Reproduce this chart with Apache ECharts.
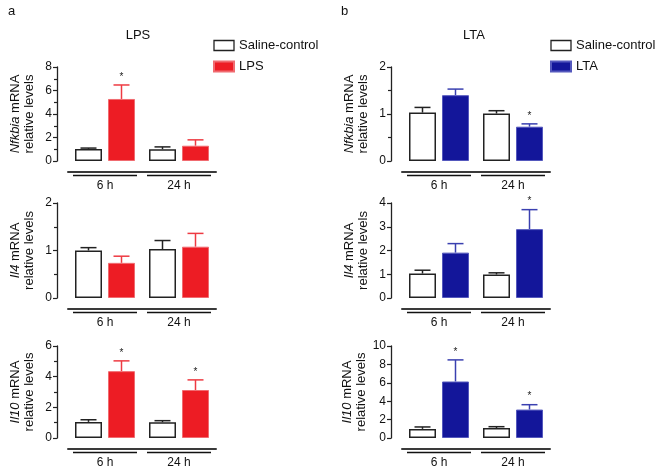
<!DOCTYPE html>
<html>
<head>
<meta charset="utf-8">
<script src="https://cdn.jsdelivr.net/npm/echarts@6/dist/echarts.min.js"></script>
<style>
html,body{margin:0;padding:0;background:#fff;}
#c{width:660px;height:469px;}
</style>
</head>
<body>
<div id="c"></div>
<script>
// ---- data ----
var categories = ['6 h', '24 h'];

// Panel a (LPS)
var nfkbiaLpsSaline = [1.02, 1.00], nfkbiaLpsSalineErr = [1.10, 1.20];
var nfkbiaLps = [5.28, 1.30], nfkbiaLpsErr = [6.47, 1.80], nfkbiaLpsSig = [1, 0];
var il4LpsSaline = [1.00, 1.03], il4LpsSalineErr = [1.06, 1.21];
var il4Lps = [0.74, 1.08], il4LpsErr = [0.88, 1.36], il4LpsSig = [0, 0];
var il10LpsSaline = [1.05, 1.03], il10LpsSalineErr = [1.19, 1.13];
var il10Lps = [4.36, 3.13], il10LpsErr = [5.03, 3.79], il10LpsSig = [1, 1];

// Panel b (LTA)
var nfkbiaLtaSaline = [1.03, 1.01], nfkbiaLtaSalineErr = [1.14, 1.07];
var nfkbiaLta = [1.40, 0.73], nfkbiaLtaErr = [1.53, 0.79], nfkbiaLtaSig = [0, 1];
var il4LtaSaline = [1.03, 0.99], il4LtaSalineErr = [1.17, 1.06];
var il4Lta = [1.91, 2.90], il4LtaErr = [2.29, 3.72], il4LtaSig = [0, 1];
var il10LtaSaline = [0.99, 1.09], il10LtaSalineErr = [1.20, 1.23];
var il10Lta = [6.14, 3.09], il10LtaErr = [8.49, 3.62], il10LtaSig = [1, 1];

// axis ranges
var yMax = [8, 2, 6, 2, 4, 10];
var yInterval = [2, 1, 2, 1, 1, 2];
var yMinor = [true, true, true, true, false, false];
var geneNames = ['Nfkbia', 'Il4', 'Il10', 'Nfkbia', 'Il4', 'Il10'];

// ---- style ----
var FONT = 'Liberation Sans, Arial, sans-serif';
var RED = '#ed1c24', RED_B = '#f06b70', RED_E = '#ee3a42';
var BLUE = '#13169a', BLUE_B = '#5458bd', BLUE_E = '#3a40b0';
var BLACK = '#222';
var BAR_W = 27, BAR_GAP = 6;
var OFF = (BAR_W + BAR_GAP) / 2;

var gridDefs = [
  {left: 68, top: 67, width: 148, height: 94},
  {left: 68, top: 203, width: 148, height: 95},
  {left: 68, top: 346, width: 148, height: 95},
  {left: 402, top: 67, width: 148, height: 94},
  {left: 402, top: 203, width: 148, height: 95},
  {left: 402, top: 346, width: 148, height: 95}
];

var panels = [
  {s: nfkbiaLpsSaline, se: nfkbiaLpsSalineErr, t: nfkbiaLps, te: nfkbiaLpsErr, sig: nfkbiaLpsSig, name: 'LPS'},
  {s: il4LpsSaline, se: il4LpsSalineErr, t: il4Lps, te: il4LpsErr, sig: il4LpsSig, name: 'LPS'},
  {s: il10LpsSaline, se: il10LpsSalineErr, t: il10Lps, te: il10LpsErr, sig: il10LpsSig, name: 'LPS'},
  {s: nfkbiaLtaSaline, se: nfkbiaLtaSalineErr, t: nfkbiaLta, te: nfkbiaLtaErr, sig: nfkbiaLtaSig, name: 'LTA'},
  {s: il4LtaSaline, se: il4LtaSalineErr, t: il4Lta, te: il4LtaErr, sig: il4LtaSig, name: 'LTA'},
  {s: il10LtaSaline, se: il10LtaSalineErr, t: il10Lta, te: il10LtaErr, sig: il10LtaSig, name: 'LTA'}
];

function errRender(offset, color) {
  return function (params, api) {
    var cat = api.value(0);
    var top = api.coord([cat, api.value(2)]);
    var base = api.coord([cat, api.value(1)]);
    var x = top[0] + offset;
    var children = [
      {type: 'line', shape: {x1: x, y1: base[1], x2: x, y2: top[1]}, style: {stroke: color, lineWidth: 1.5}},
      {type: 'line', shape: {x1: x - 8, y1: top[1], x2: x + 8, y2: top[1]}, style: {stroke: color, lineWidth: 1.5}}
    ];
    if (api.value(3)) {
      children.push({type: 'text', style: {text: '*', x: x, y: top[1] - 3, textAlign: 'center', textVerticalAlign: 'bottom', fontSize: 10, fontFamily: FONT, fill: '#222'}});
    }
    return {type: 'group', children: children};
  };
}

function underlineRender(params, api) {
  var p = api.coord([api.value(0), 0]);
  var w = api.size([1, 0])[0];
  return {type: 'line', shape: {x1: p[0] - w / 2 + 5, y1: p[1] + 14.5, x2: p[0] + w / 2 - 5, y2: p[1] + 14.5}, style: {stroke: '#111', lineWidth: 1.3}};
}

var grids = [], xAxes = [], yAxes = [], series = [];
gridDefs.forEach(function (g, i) {
  grids.push(g);
  xAxes.push({
    type: 'category', gridIndex: i, data: categories, offset: 11,
    axisLine: {onZero: false, lineStyle: {color: '#3a3a3a', width: 2}},
    axisTick: {show: false},
    axisLabel: {fontSize: 12, color: '#111', fontFamily: FONT, margin: 8}
  });
  yAxes.push({
    type: 'value', gridIndex: i, min: 0, max: yMax[i], interval: yInterval[i], offset: 11,
    splitLine: {show: false},
    axisLine: {show: true, onZero: false, lineStyle: {color: BLACK, width: 1.3}},
    axisTick: {show: true, length: 4, lineStyle: {color: BLACK, width: 1.2}},
    minorTick: {show: yMinor[i], splitNumber: 2, length: 3, lineStyle: {color: BLACK, width: 1.2}},
    axisLabel: {fontSize: 12, color: '#111', fontFamily: FONT, margin: 5},
    name: '{i|' + geneNames[i] + '} mRNA\nrelative levels',
    nameLocation: 'middle', nameGap: 21, nameRotate: 90,
    nameTextStyle: {fontSize: 13, color: '#111', fontFamily: FONT, lineHeight: 14,
      rich: {i: {fontStyle: 'italic', fontSize: 13, color: '#111', fontFamily: FONT, lineHeight: 14}}}
  });
  var p = panels[i];
  var isLps = p.name === 'LPS';
  var fill = isLps ? RED : BLUE, bord = isLps ? RED_B : BLUE_B, ecol = isLps ? RED_E : BLUE_E;
  series.push({
    type: 'bar', name: 'Saline-control', xAxisIndex: i, yAxisIndex: i, data: p.s,
    barWidth: BAR_W, barGap: (BAR_GAP / BAR_W * 100) + '%',
    itemStyle: {color: '#fff', borderColor: BLACK, borderWidth: 1.5}, z: 3
  });
  series.push({
    type: 'bar', name: p.name, xAxisIndex: i, yAxisIndex: i, data: p.t,
    barWidth: BAR_W,
    itemStyle: {color: fill, borderColor: bord, borderWidth: 1}, z: 3
  });
  series.push({
    type: 'custom', name: 'errS' + i, xAxisIndex: i, yAxisIndex: i,
    data: p.s.map(function (v, k) { return [k, v, p.se[k], 0]; }),
    renderItem: errRender(-OFF, BLACK), z: 2
  });
  series.push({
    type: 'custom', name: 'errT' + i, xAxisIndex: i, yAxisIndex: i,
    data: p.t.map(function (v, k) { return [k, v, p.te[k], p.sig[k]]; }),
    renderItem: errRender(OFF, ecol), z: 2
  });
  series.push({
    type: 'custom', name: 'ul' + i, xAxisIndex: i, yAxisIndex: i,
    data: categories.map(function (c, k) { return [k, 0]; }),
    renderItem: underlineRender, z: 2
  });
});

var legendSaline = {name: 'Saline-control', itemStyle: {color: '#fff', borderColor: BLACK, borderWidth: 1.3}};
var option = {
  animation: false,
  backgroundColor: '#fff',
  title: [
    {text: 'a', left: 3, top: 0, textStyle: {fontSize: 13, fontWeight: 'normal', color: '#111', fontFamily: FONT}},
    {text: 'b', left: 336, top: 0, textStyle: {fontSize: 13, fontWeight: 'normal', color: '#111', fontFamily: FONT}},
    {text: 'LPS', left: 133, top: 24, textAlign: 'center', textStyle: {fontSize: 13, fontWeight: 'normal', color: '#111', fontFamily: FONT}},
    {text: 'LTA', left: 469, top: 24, textAlign: 'center', textStyle: {fontSize: 13, fontWeight: 'normal', color: '#111', fontFamily: FONT}}
  ],
  legend: [
    {orient: 'vertical', left: 213, top: 39, icon: 'rect', itemWidth: 20, itemHeight: 10, itemGap: 8, padding: 0,
      data: [legendSaline, {name: 'LPS'}],
      textStyle: {fontSize: 13, color: '#111', fontFamily: FONT}},
    {orient: 'vertical', left: 550, top: 39, icon: 'rect', itemWidth: 20, itemHeight: 10, itemGap: 8, padding: 0,
      data: [legendSaline, {name: 'LTA'}],
      textStyle: {fontSize: 13, color: '#111', fontFamily: FONT}}
  ],
  grid: grids,
  xAxis: xAxes,
  yAxis: yAxes,
  series: series
};

var chart = echarts.init(document.getElementById('c'), null, {renderer: 'canvas'});
chart.setOption(option);
</script>
</body>
</html>
